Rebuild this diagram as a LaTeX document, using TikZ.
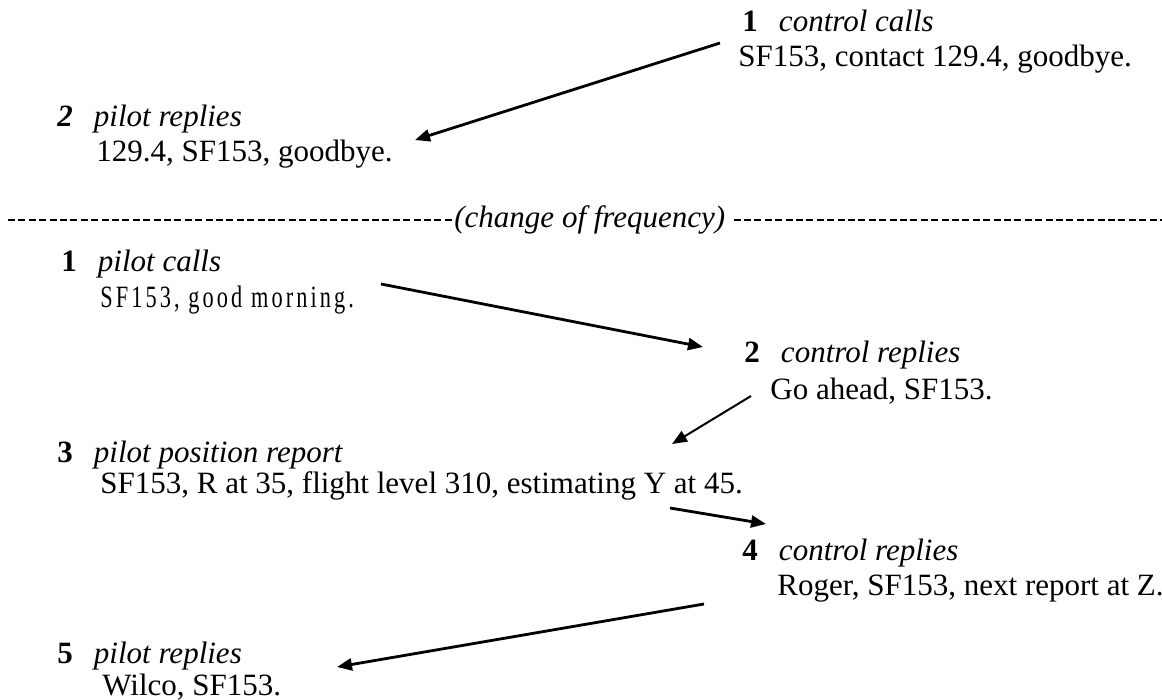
\documentclass[tikz,border=0pt]{standalone}
\usepackage{fontspec}
\setmainfont{Liberation Serif}
\newfontfamily\trackfont[LetterSpace=10,FakeStretch=0.72]{Liberation Serif}
\usetikzlibrary{positioning,arrows.meta,calc}
\tikzset{
  head/.style={anchor=base west, inner sep=0pt, font=\fontsize{15.5}{18}\selectfont},
  msg/.style ={anchor=base west, inner sep=0pt, font=\fontsize{15.5}{18}\selectfont},
  call/.style={-{Triangle[length=7.5pt,width=6pt]}, line width=1.4pt},
  rule/.style={dash pattern=on 3.5pt off 1.7pt, line width=0.8pt},
}
\newcommand{\turn}[2]{\makebox[1.18em][l]{#1}\textit{#2}}

\begin{document}
\begin{tikzpicture}[x=0.5pt, y=-0.5pt]
\useasboundingbox (0,0) rectangle (1162,700);
% before the change of frequency
\node[head] (c1h) at (742,32) {\turn{\textbf{1}}{control calls}};
\node[msg]  (c1)  at (738,67) {SF153, contact 129.4, goodbye.};
\node[head] (p2h) at (57,127) {\turn{\textbf{\textit{2}}}{pilot replies}};
\node[msg]  (p2)  at (96,162) {129.4, SF153, goodbye.};
% frequency change
\node[head] (chg) at (454,228) {\textit{(change of frequency)}};
\coordinate (ruleL) at (8,220);
\coordinate (ruleR) at (1162,220);
\draw[rule] (ruleL) -- (ruleL -| chg.west);
\draw[rule] (ruleR -| chg.east) ++(8,0) -- (ruleR);
% after the change
\node[head] (p1h) at (61,272) {\turn{\textbf{1}}{pilot calls}};
\node[msg]  (p1)  at (100,307) {\trackfont SF153, good morning.};
\node[head] (c2h) at (744,363) {\turn{\textbf{2}}{control replies}};
\node[msg]  (c2)  at (770,400) {Go ahead, SF153.};
\node[head] (p3h) at (57,462) {\turn{\textbf{3}}{pilot position report}};
\node[msg]  (p3)  at (100,493) {SF153, R at 35, flight level 310, estimating Y at 45.};
\node[head] (c4h) at (742,560) {\turn{\textbf{4}}{control replies}};
\node[msg]  (c4)  at (777,595) {Roger, SF153, next report at Z.};
\node[head] (p5h) at (57,663) {\turn{\textbf{5}}{pilot replies}};
\node[msg]  (p5)  at (102,695) {Wilco, SF153.};
% arrow ends
\coordinate (c1out) at (720,43);
\coordinate (p2in)  at (415,140);
\coordinate (p1out) at (381,284);
\coordinate (c2in)  at (703,347);
\coordinate (c2out) at (751,396);
\coordinate (p3in)  at (672,444);
\coordinate (p3out) at (670,508);
\coordinate (c4in)  at (766,524);
\coordinate (c4out) at (704,604);
\coordinate (p5in)  at (337,667);
\draw[call] (c1out) -- (p2in);
\draw[call] (p1out) -- (c2in);
\draw[call, line width=1pt] (c2out) -- (p3in);
\draw[call] (p3out) -- (c4in);
\draw[call] (c4out) -- (p5in);
\end{tikzpicture}
\end{document}
